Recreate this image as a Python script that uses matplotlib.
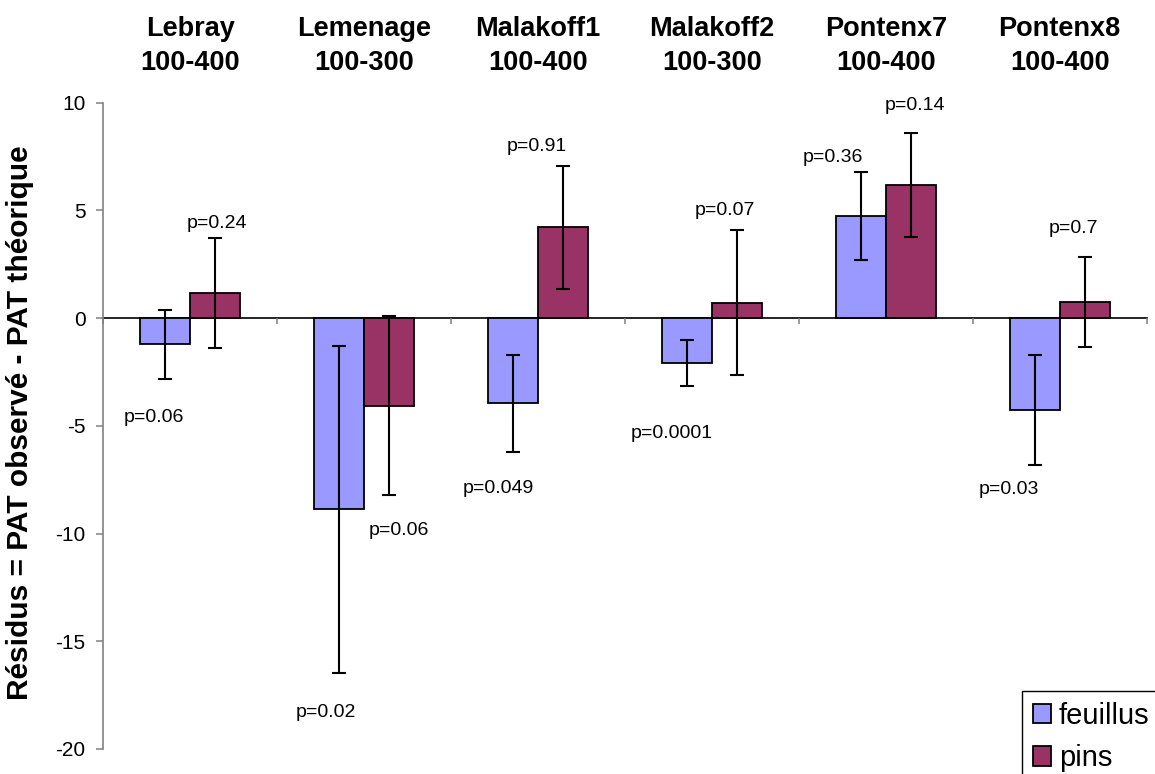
import matplotlib
matplotlib.use("Agg")
import matplotlib.pyplot as plt
from matplotlib.patches import Rectangle
import numpy as np

plt.rcParams['font.family'] = ['Liberation Sans', 'DejaVu Sans']
plt.rcParams['axes.unicode_minus'] = False

# ---- data ----
sites = ["Lebray", "Lemenage", "Malakoff1", "Malakoff2", "Pontenx7", "Pontenx8"]
ranges = ["100-400", "100-300", "100-400", "100-300", "100-400", "100-400"]
feuillus = [-1.22, -8.88, -3.95, -2.07, 4.74, -4.28]
feuillus_err = [1.62, 7.57, 2.26, 1.06, 2.06, 2.56]
pins = [1.16, -4.06, 4.22, 0.72, 6.17, 0.77]
pins_err = [2.56, 4.17, 2.85, 3.37, 2.41, 2.09]
p_feuillus = ["p=0.06", "p=0.02", "p=0.049", "p=0.0001", "p=0.36", "p=0.03"]
p_pins = ["p=0.24", "p=0.06", "p=0.91", "p=0.07", "p=0.14", "p=0.7"]
series_names = ["feuillus", "pins"]
ylabel = "Résidus = PAT observé - PAT théorique"

# ---- layout of p-value labels (offset from category centre, baseline y) ----
pf_pos = [(-0.211, -4.80), (-0.219, -18.51), (-0.230, -8.12),
          (-0.230, -5.56), (-0.304, 7.25), (-0.292, -8.16)]
pp_pos = [(0.154, 4.19), (0.198, -10.07), (-0.006, 7.76),
          (0.075, 4.79), (0.168, 9.67), (0.076, 3.96)]

W, H = 1155, 774
fig = plt.figure(figsize=(W / 100, H / 100), dpi=100)
ax = fig.add_axes([103.3 / W, 1 - 749 / H, 1043.4 / W, (749 - 102.7) / H])

x = np.arange(len(sites))
bw = 0.2875
c_f = "#9999FF"
c_p = "#993366"

ax.bar(x - bw / 2, feuillus, bw, color=c_f, edgecolor="black", linewidth=1.3,
       label=series_names[0], zorder=2)
ax.bar(x + bw / 2, pins, bw, color=c_p, edgecolor="black", linewidth=1.3,
       label=series_names[1], zorder=2)
ax.errorbar(x - bw / 2, feuillus, yerr=feuillus_err, fmt="none", ecolor="black",
            elinewidth=1.5, capsize=5, capthick=1.5, zorder=3)
ax.errorbar(x + bw / 2, pins, yerr=pins_err, fmt="none", ecolor="black",
            elinewidth=1.5, capsize=5, capthick=1.5, zorder=3)

ax.set_xlim(-0.5, len(sites) - 0.5)
ax.set_ylim(-20, 10)
ax.set_yticks([10, 5, 0, -5, -10, -15, -20])
ax.set_xticks(np.arange(len(sites) + 1) - 0.5)
ax.set_xticklabels([])

for s in ["top", "right"]:
    ax.spines[s].set_visible(False)
ax.spines["left"].set_color("#808080")
ax.spines["left"].set_linewidth(1.2)
ax.spines["bottom"].set_position(("data", 0))
ax.spines["bottom"].set_color("black")
ax.spines["bottom"].set_linewidth(1.2)
ax.spines["bottom"].set_zorder(1)
ax.tick_params(axis="y", direction="out", length=4.8, width=1.1, colors="#808080",
               labelcolor="black", labelsize=15, pad=8)
ax.tick_params(axis="x", direction="out", length=4.5, width=1.1, colors="#808080")

ax.set_ylabel(ylabel, fontsize=21.5, fontweight="bold")
ax.yaxis.set_label_coords(-0.0665, 0.505)

# category labels (two lines above the plot)
for i in range(len(sites)):
    xf = (103.3 + 173.9 * (i + 0.5)) / W
    fig.text(xf, 1 - 29.5 / H, sites[i], ha="center", va="center",
             fontsize=19.5, fontweight="bold")
    fig.text(xf, 1 - 63 / H, ranges[i], ha="center", va="center",
             fontsize=19.5, fontweight="bold")

for i in range(len(sites)):
    ax.text(i + pf_pos[i][0], pf_pos[i][1], p_feuillus[i], ha="center",
            va="baseline", fontsize=14)
    ax.text(i + pp_pos[i][0], pp_pos[i][1], p_pins[i], ha="center",
            va="baseline", fontsize=14)

# legend box (extends past the figure edge, as in the original)
fig.patches.append(Rectangle((1021.7 / W, -0.1), 0.2, 1 - 691 / H + 0.1,
                             transform=fig.transFigure, facecolor="white",
                             edgecolor="black", linewidth=1.0, zorder=5))
leg = fig.legend(loc="upper left", bbox_to_anchor=(1024 / W, 1 - 693 / H),
                 fontsize=21, frameon=False,
                 handlelength=0.64, handleheight=0.64, handletextpad=0.25,
                 borderpad=0.3, labelspacing=0.5, borderaxespad=0)
leg.set_zorder(6)

fig.savefig("out.png", dpi=100)
